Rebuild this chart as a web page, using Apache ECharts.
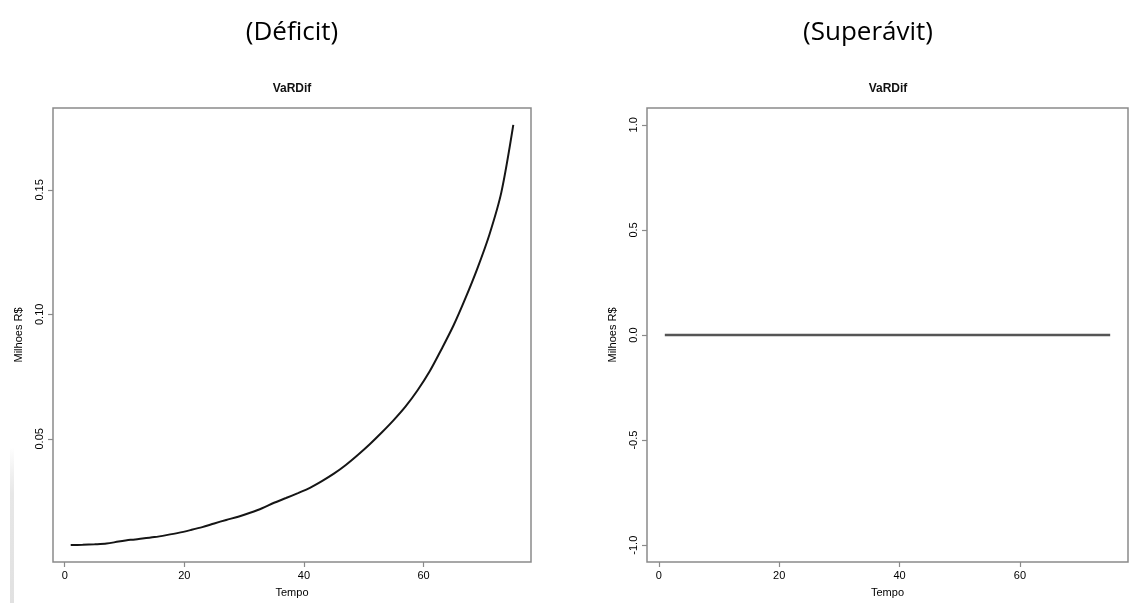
<!DOCTYPE html>
<html>
<head>
<meta charset="utf-8">
<script src="https://cdn.jsdelivr.net/npm/echarts@6/dist/echarts.min.js"></script>
<style>
html,body{margin:0;padding:0;background:#fff;}
#chart{width:1129px;height:603px;}
</style>
</head>
<body>
<div id="chart"></div>
<script>
// ---- data ----
const tempo = [1,3,5,7,9,11,13,15,17,19,21,23,25,27,29,31,33,35,37,39,41,43,45,47,49,51,53,55,57,59,61,63,65,67,69,71,73,75];
const deficitValues = [0.0073,0.0074,0.0076,0.0079,0.0087,0.0094,0.0099,0.0105,0.0113,0.0122,
  0.0133,0.0145,0.0160,0.0174,0.0187,0.0203,0.0221,0.0243,0.0262,0.0282,
  0.0303,0.0330,0.0360,0.0395,0.0435,0.0478,0.0525,0.0575,0.0630,0.0695,
  0.0770,0.0860,0.0955,0.1065,0.1185,0.1320,0.1490,0.1761];
const superavitValues = [0,0,0,0,0,0,0,0,0,0,0,0,0,0,0,0,0,0,0,0,0,0,0,0,0,0,0,0,0,0,0,0,0,0,0,0,0,0];
const xTicks = [0,20,40,60];
const yTicksDeficit = [0.05,0.10,0.15];
const yTicksSuperavit = [-1.0,-0.5,0.0,0.5,1.0];
const panelHeadings = ['(Déficit)','(Superávit)'];
const plotTitle = 'VaRDif';
const xName = 'Tempo';
const yName = 'Milhoes R$';

const chart = echarts.init(document.getElementById('chart'), null, {renderer:'canvas'});

const axisFont = {fontFamily:'Liberation Sans, Arial, sans-serif', fontSize:11, color:'#000'};
const gridStyle = {show:true, borderColor:'#8a8a8a', borderWidth:1.5, containLabel:false};
const tickStyle = {color:'#8a8a8a', width:1.2};

function xAxisCfg(gridIndex){
  return {
    type:'value', gridIndex, min:-1.96, max:77.96, position:'bottom',
    splitLine:{show:false},
    axisLine:{show:false, onZero:false},
    axisTick:{show:true, inside:false, customValues:xTicks, length:5, lineStyle:tickStyle},
    axisLabel:Object.assign({customValues:xTicks, margin:8, formatter:v=>String(v)}, axisFont),
    name:xName, nameLocation:'middle', nameGap:25,
    nameTextStyle:Object.assign({}, axisFont)
  };
}
function yAxisCfg(gridIndex, min, max, ticks, digits){
  return {
    type:'value', gridIndex, min, max, position:'left',
    splitLine:{show:false},
    axisLine:{show:false, onZero:false},
    axisTick:{show:true, inside:false, customValues:ticks, length:5, lineStyle:tickStyle},
    axisLabel:Object.assign({customValues:ticks, rotate:90, margin:8, formatter:v=>v.toFixed(digits)}, axisFont),
    name:yName, nameLocation:'middle', nameGap:29,
    nameTextStyle:Object.assign({}, axisFont)
  };
}

const option = {
  backgroundColor:'#fff',
  animation:false,
  grid:[
    Object.assign({left:53, top:108, width:478, height:454}, gridStyle),
    Object.assign({left:647, top:108, width:481, height:454}, gridStyle)
  ],
  xAxis:[xAxisCfg(0), xAxisCfg(1)],
  yAxis:[
    yAxisCfg(0, 0.0005, 0.1829, yTicksDeficit, 2),
    yAxisCfg(1, -1.08, 1.08, yTicksSuperavit, 1)
  ],
  series:[
    {type:'line', xAxisIndex:0, yAxisIndex:0, showSymbol:false, symbol:'none', smooth:0.3,
     lineStyle:{color:'#151515', width:2}, data:tempo.map((t,i)=>[t, deficitValues[i]])},
    {type:'line', xAxisIndex:1, yAxisIndex:1, showSymbol:false, symbol:'none',
     lineStyle:{color:'#555', width:2.6}, data:tempo.map((t,i)=>[t, superavitValues[i]])}
  ],
  graphic:[
    {type:'text', x:292, y:33, style:{text:panelHeadings[0], textAlign:'center', textVerticalAlign:'middle',
      font:'26px "Open Sans", sans-serif', fill:'#000'}},
    {type:'text', x:868, y:33, style:{text:panelHeadings[1], textAlign:'center', textVerticalAlign:'middle',
      font:'26px "Open Sans", sans-serif', fill:'#000'}},
    {type:'text', x:292, y:89, style:{text:plotTitle, textAlign:'center', textVerticalAlign:'middle',
      font:'bold 12px "Liberation Sans", Arial, sans-serif', fill:'#111'}},
    {type:'text', x:888, y:89, style:{text:plotTitle, textAlign:'center', textVerticalAlign:'middle',
      font:'bold 12px "Liberation Sans", Arial, sans-serif', fill:'#111'}},
    {type:'rect', shape:{x:10, y:447, width:4, height:156}, silent:true,
     style:{fill:new echarts.graphic.LinearGradient(0,0,0,1,[{offset:0,color:'rgba(220,220,220,0)'},{offset:0.3,color:'rgba(225,225,225,0.8)'},{offset:1,color:'rgba(225,225,225,1)'}])}}
  ]
};
chart.setOption(option);
</script>
</body>
</html>
